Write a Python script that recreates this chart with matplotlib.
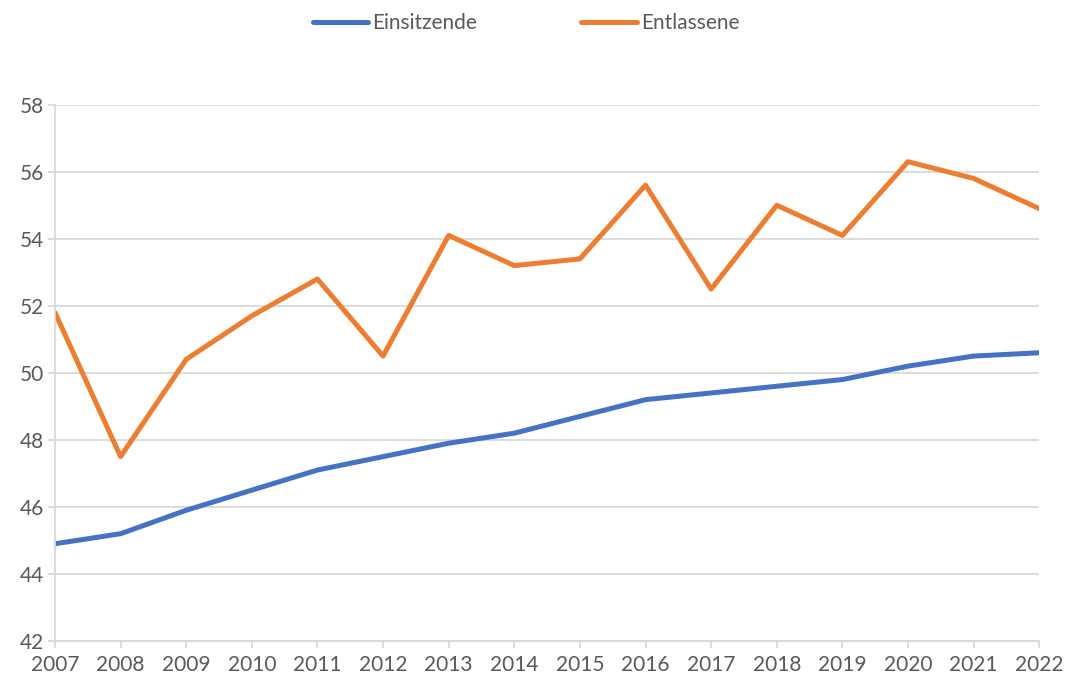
import matplotlib.pyplot as plt

years = list(range(2007, 2023))
einsitzende = [44.9, 45.2, 45.9, 46.5, 47.1, 47.5, 47.9, 48.2, 48.7, 49.2, 49.4, 49.6, 49.8, 50.2, 50.5, 50.6]
entlassene = [51.8, 47.5, 50.4, 51.7, 52.8, 50.5, 54.1, 53.2, 53.4, 55.6, 52.5, 55.0, 54.1, 56.3, 55.8, 54.9]
y_ticks = list(range(42, 59, 2))

plt.rcParams['font.family'] = ['Lato', 'DejaVu Sans']
text_color = '#595959'
grid_color = '#d9d9d9'

fig = plt.figure(figsize=(10.67, 6.8), dpi=100)
ax = fig.add_axes([0.0515, 0.0574, 0.9225, 0.7886])

ax.plot(years, einsitzende, color='#4472C4', lw=3.6, label='Einsitzende', solid_capstyle='round')
ax.plot(years, entlassene, color='#ED7D31', lw=3.6, label='Entlassene', solid_capstyle='round')

ax.set_xlim(years[0], years[-1])
ax.set_ylim(42, 58)
ax.set_xticks(years)
ax.set_yticks(y_ticks)
ax.grid(axis='y', color=grid_color, lw=1.3)
ax.set_axisbelow(True)

for side in ['top', 'right']:
    ax.spines[side].set_visible(False)
for side in ['left', 'bottom']:
    ax.spines[side].set_color(grid_color)
    ax.spines[side].set_linewidth(1.3)

ax.tick_params(axis='both', colors=grid_color, labelcolor=text_color, labelsize=15, width=1.3, length=5)
ax.tick_params(axis='x', pad=5)
ax.tick_params(axis='y', pad=3)

fig.legend(loc='upper center', bbox_to_anchor=(0.493, 1.008), ncol=2, frameon=False,
           fontsize=15, labelcolor=text_color, handlelength=2.65, handletextpad=0.2,
           columnspacing=5.0)

fig.savefig('out.png', dpi=100)
